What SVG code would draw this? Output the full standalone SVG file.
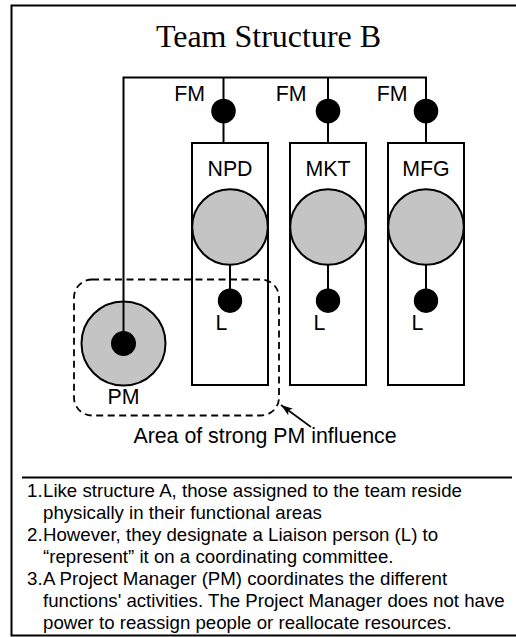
<svg xmlns="http://www.w3.org/2000/svg" width="516" height="637" viewBox="0 0 516 637">
<style>
.frame{fill:none;stroke:#000;stroke-width:2}
.box{fill:#fff;stroke:#000;stroke-width:2}
.big{fill:#c4c4c4;stroke:#000;stroke-width:2}
.dot{fill:#000}
.ln{fill:none;stroke:#000;stroke-width:2}
.thin{fill:none;stroke:#000;stroke-width:1.6}
.dash{fill:none;stroke:#000;stroke-width:1.8;stroke-dasharray:7 4.5}
.title{font-family:"Liberation Serif","Times New Roman",serif;font-size:32px;fill:#000}
.lbl{font-family:"Liberation Sans",Arial,sans-serif;font-size:21.33px;fill:#000}
.note{font-family:"Liberation Sans",Arial,sans-serif;font-size:18.67px;fill:#000}
</style>
<defs>
<marker id="arr" markerUnits="userSpaceOnUse" markerWidth="14" markerHeight="10" refX="12" refY="4" orient="auto">
<path d="M0,0 L12,4 L0,8 L3,4 z" fill="#000"/>
</marker>
</defs>
<rect class="frame" x="11.5" y="5.5" width="530" height="630"/>
<line class="ln" x1="22" y1="477.5" x2="512" y2="477.5"/>
<text class="title" x="268.5" y="46.5" text-anchor="middle">Team Structure B</text>

<g id="node-npd">
<rect class="box" x="192" y="143" width="76" height="242"/>
<circle class="big" cx="230" cy="227" r="37.8"/>
<text class="lbl" x="230" y="176" text-anchor="middle">NPD</text>
</g>
<g id="node-mkt">
<rect class="box" x="290" y="143" width="76" height="242"/>
<circle class="big" cx="328" cy="227" r="37.8"/>
<text class="lbl" x="328" y="176" text-anchor="middle">MKT</text>
</g>
<g id="node-mfg">
<rect class="box" x="388" y="143" width="76" height="242"/>
<circle class="big" cx="426" cy="227" r="37.8"/>
<text class="lbl" x="426" y="176" text-anchor="middle">MFG</text>
</g>
<g id="node-pm">
<circle class="big" cx="123.5" cy="343.5" r="42"/>
<text class="lbl" x="123.5" y="403.5" text-anchor="middle">PM</text>
</g>

<g id="connectors">
<polyline class="ln" points="123.5,343.5 123.5,77.5 426,77.5 426,143"/>
<line class="ln" x1="223.5" y1="77.5" x2="223.5" y2="143"/>
<line class="ln" x1="328" y1="77.5" x2="328" y2="143"/>
<line class="ln" x1="230" y1="264" x2="230" y2="301"/>
<line class="ln" x1="328" y1="264" x2="328" y2="301"/>
<line class="ln" x1="426" y1="264" x2="426" y2="301"/>
<line class="thin" x1="311" y1="427" x2="281" y2="405" marker-end="url(#arr)"/>
</g>

<g id="fm-npd"><circle class="dot" cx="223.5" cy="111" r="12.3"/><text class="lbl" x="205" y="100.5" text-anchor="end">FM</text></g>
<g id="fm-mkt"><circle class="dot" cx="328" cy="111" r="12.3"/><text class="lbl" x="306.5" y="100.5" text-anchor="end">FM</text></g>
<g id="fm-mfg"><circle class="dot" cx="426" cy="111" r="12.3"/><text class="lbl" x="407.5" y="100.5" text-anchor="end">FM</text></g>
<g id="l-npd"><circle class="dot" cx="230" cy="300.7" r="12.2"/><text class="lbl" x="215.5" y="329.5">L</text></g>
<g id="l-mkt"><circle class="dot" cx="328" cy="300.7" r="12.2"/><text class="lbl" x="313.5" y="329.5">L</text></g>
<g id="l-mfg"><circle class="dot" cx="426" cy="300.7" r="12.2"/><text class="lbl" x="411.5" y="329.5">L</text></g>
<g id="pm-dot"><circle class="dot" cx="123.5" cy="343.5" r="12.5"/></g>

<g id="influence">
<rect class="dash" x="74" y="279.5" width="205" height="136" rx="18" ry="18"/>
<text class="lbl" x="265" y="442.5" text-anchor="middle">Area of strong PM influence</text>
</g>

<g id="notes" class="note">
<text x="27" y="497">1.</text><text x="43" y="497">Like structure A, those assigned to the team reside</text>
<text x="43" y="519">physically in their functional areas</text>
<text x="27" y="541">2.</text><text x="43" y="541">However, they designate a Liaison person (L) to</text>
<text x="43" y="563">“represent” it on a coordinating committee.</text>
<text x="27" y="585">3.</text><text x="43" y="585">A Project Manager (PM) coordinates the different</text>
<text x="43" y="607">functions' activities. The Project Manager does not have</text>
<text x="43" y="629">power to reassign people or reallocate resources.</text>
</g>
</svg>
